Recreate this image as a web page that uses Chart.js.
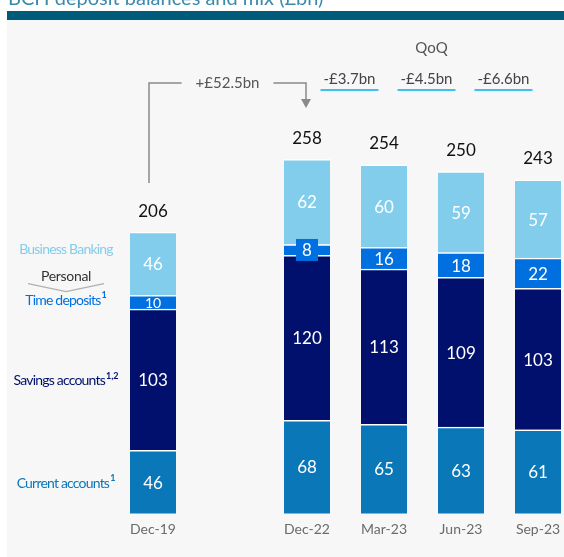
<!DOCTYPE html>
<html>
<head>
<meta charset="utf-8">
<script src="https://cdn.jsdelivr.net/npm/chart.js@4"></script>
<style>
  html, body { margin: 0; padding: 0; background: #fff; overflow: hidden; }
  canvas { display: block; }
</style>
</head>
<body>
<canvas id="grafico" width="564" height="557"></canvas>
<script>
// Dados do gráfico (£bn)
const periodos = ["Dec-19", "", "Dec-22", "Mar-23", "Jun-23", "Sep-23"];
const currentAccounts = [46, null, 68, 65, 63, 61];
const savingsAccounts = [103, null, 120, 113, 109, 103];
const timeDeposits = [10, null, 8, 16, 18, 22];
const businessBanking = [46, null, 62, 60, 59, 57];
const totais = [206, null, 258, 254, 250, 243];
const variacaoQoQ = ["-£3.7bn", "-£4.5bn", "-£6.6bn"];
const variacaoTotal = "+£52.5bn";
const titulo = "BCH deposit balances and mix (£bn)";

const FONTE = "Lato, 'Noto Sans', sans-serif";
const cores = {
  current: "#0a77b8",
  savings: "#00106c",
  time: "#0070e0",
  business: "#83cdec"
};

// Fundo, faixa e título cortado
const pluginFundo = {
  id: "fundo",
  beforeDraw(chart) {
    const ctx = chart.ctx;
    ctx.save();
    ctx.fillStyle = "#fff";
    ctx.fillRect(0, 0, chart.width, chart.height);
    ctx.fillStyle = "#3a8bab";
    ctx.font = "20px " + FONTE;
    ctx.textBaseline = "alphabetic";
    ctx.fillText(titulo, 8, 5);
    ctx.fillStyle = "#005a7a";
    ctx.fillRect(7, 11, chart.width - 7, 9);
    ctx.fillStyle = "#f7f7f7";
    ctx.fillRect(7, 20, chart.width - 7, chart.height - 20);
    ctx.restore();
  }
};

function textoComSobrescrito(ctx, texto, sup, cx, cy, cor) {
  ctx.letterSpacing = "-0.8px";
  ctx.font = "14px " + FONTE;
  const w1 = ctx.measureText(texto).width;
  ctx.letterSpacing = "0px";
  ctx.font = "bold 9px " + FONTE;
  const w2 = sup ? ctx.measureText(sup).width + 1 : 0;
  const x0 = cx - (w1 + w2) / 2;
  ctx.fillStyle = cor;
  ctx.textAlign = "left";
  ctx.textBaseline = "middle";
  ctx.letterSpacing = "-0.8px";
  ctx.font = "14px " + FONTE;
  ctx.fillText(texto, x0, cy);
  if (sup) {
    ctx.letterSpacing = "0px";
    ctx.font = "bold 9px " + FONTE;
    ctx.fillText(sup, x0 + w1 + 1, cy - 5);
  }
}

// Rótulos dos segmentos, totais, legenda lateral e anotações
const pluginRotulos = {
  id: "rotulos",
  afterDatasetsDraw(chart) {
    const ctx = chart.ctx;
    const x = chart.scales.x;
    ctx.save();
    ctx.letterSpacing = "0px";

    chart.data.datasets.forEach((ds, di) => {
      const meta = chart.getDatasetMeta(di);
      meta.data.forEach((el, i) => {
        const v = ds.data[i];
        if (v == null) return;
        const cy = (el.y + el.base) / 2;
        const h = Math.abs(el.base - el.y);
        if (h < 12) {
          ctx.fillStyle = ds.backgroundColor;
          ctx.fillRect(el.x - 11, cy - 11, 22, 22);
          ctx.font = "17px " + FONTE;
        } else {
          ctx.font = (h < 16 ? "14px " : "17px ") + FONTE;
        }
        ctx.fillStyle = "#fff";
        ctx.textAlign = "center";
        ctx.textBaseline = "middle";
        ctx.fillText(String(v), el.x, cy + 1);
      });
    });

    // totais
    const topo = chart.getDatasetMeta(chart.data.datasets.length - 1);
    topo.data.forEach((el, i) => {
      if (totais[i] == null) return;
      ctx.fillStyle = "#111";
      ctx.font = "17px " + FONTE;
      ctx.textAlign = "center";
      ctx.textBaseline = "middle";
      ctx.fillText(String(totais[i]), el.x, el.y - 21);
    });

    // legenda lateral alinhada à barra Dec-19
    const centro = di => {
      const el = chart.getDatasetMeta(di).data[0];
      return (el.y + el.base) / 2;
    };
    const lx = 66;
    textoComSobrescrito(ctx, "Current accounts", "1", lx, centro(0) + 1, cores.current);
    textoComSobrescrito(ctx, "Savings accounts", "1,2", lx, centro(1) + 1, cores.savings);
    textoComSobrescrito(ctx, "Time deposits", "1", lx, centro(2) - 2, cores.time);
    textoComSobrescrito(ctx, "Business Banking", "", lx, centro(3) - 14, cores.business);
    ctx.letterSpacing = "-0.3px";
    ctx.fillStyle = "#333";
    ctx.font = "14px " + FONTE;
    ctx.textAlign = "center";
    ctx.fillText("Personal", lx, centro(3) + 13);
    ctx.strokeStyle = "#b0b0b0";
    ctx.lineWidth = 1.2;
    ctx.beginPath();
    ctx.moveTo(lx - 38, centro(3) + 20);
    ctx.lineTo(lx, centro(3) + 28);
    ctx.lineTo(lx + 38, centro(3) + 20);
    ctx.stroke();
    ctx.letterSpacing = "0px";

    // variações trimestrais
    ctx.font = "15px " + FONTE;
    ctx.textAlign = "center";
    ctx.textBaseline = "middle";
    variacaoQoQ.forEach((t, k) => {
      const cx = (x.getPixelForValue(2 + k) + x.getPixelForValue(3 + k)) / 2 + 4;
      ctx.fillStyle = "#444";
      ctx.fillText(t, cx, 79);
      ctx.strokeStyle = "#00aeef";
      ctx.lineWidth = 1.5;
      ctx.beginPath();
      ctx.moveTo(cx - 29, 90);
      ctx.lineTo(cx + 29, 90);
      ctx.stroke();
    });
    const cxMeio = (x.getPixelForValue(3) + x.getPixelForValue(4)) / 2 + 9;
    ctx.fillStyle = "#555";
    ctx.fillText("QoQ", cxMeio, 48);

    // conector Dec-19 -> Dec-22
    const x1 = x.getPixelForValue(0) - 4;
    const x2 = x.getPixelForValue(2) - 1;
    const yl = 83;
    const el0 = topo.data[0];
    const meioTxt = (x1 + x2) / 2;
    const meiaLarg = ctx.measureText(variacaoTotal).width / 2 + 14;
    ctx.fillStyle = "#555";
    ctx.fillText(variacaoTotal, meioTxt, yl);
    ctx.strokeStyle = "#8a8a8a";
    ctx.lineWidth = 1.5;
    ctx.beginPath();
    ctx.moveTo(x1, el0.y - 49);
    ctx.lineTo(x1, yl);
    ctx.lineTo(meioTxt - meiaLarg, yl);
    ctx.moveTo(meioTxt + meiaLarg, yl);
    ctx.lineTo(x2, yl);
    ctx.lineTo(x2, 100);
    ctx.stroke();
    ctx.fillStyle = "#8a8a8a";
    ctx.beginPath();
    ctx.moveTo(x2 - 5, 99);
    ctx.lineTo(x2 + 5, 99);
    ctx.lineTo(x2, 108);
    ctx.closePath();
    ctx.fill();

    ctx.restore();
  }
};

function serie(label, data, cor) {
  return {
    label,
    data,
    backgroundColor: cor,
    borderColor: "#ffffff",
    borderWidth: { top: 1.5 },
    borderSkipped: "start",
    barThickness: 46,
    clip: false
  };
}

new Chart(document.getElementById("grafico"), {
  type: "bar",
  data: {
    labels: periodos,
    datasets: [
      serie("Current accounts", currentAccounts, cores.current),
      serie("Savings accounts", savingsAccounts, cores.savings),
      serie("Time deposits", timeDeposits, cores.time),
      serie("Business Banking", businessBanking, cores.business)
    ]
  },
  options: {
    responsive: false,
    animation: false,
    layout: { padding: { left: 153, right: 26, top: 33, bottom: 12.6 } },
    plugins: { legend: { display: false }, tooltip: { enabled: false } },
    scales: {
      x: {
        stacked: true,
        offset: false,
        grid: { display: false, drawTicks: false },
        border: { display: false },
        afterFit(scale) {
          scale.paddingLeft = 0;
          scale.paddingRight = 0;
        },
        ticks: {
          autoSkip: false,
          maxRotation: 0,
          padding: 7,
          color: "#6b6b6b",
          font: { family: FONTE, size: 14 }
        }
      },
      y: {
        stacked: true,
        display: false,
        min: 0,
        max: 350
      }
    }
  },
  plugins: [pluginFundo, pluginRotulos]
});
</script>
</body>
</html>
